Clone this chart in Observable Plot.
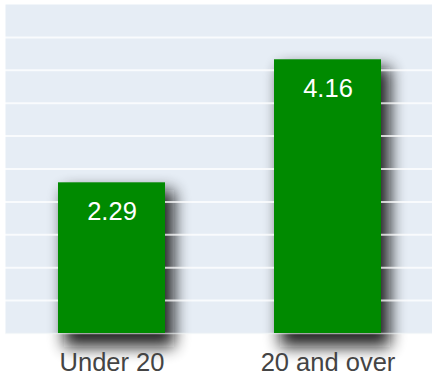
<!DOCTYPE html>
<html>
<head>
<meta charset="utf-8">
<script src="https://cdn.jsdelivr.net/npm/d3@7"></script>
<script src="https://cdn.jsdelivr.net/npm/@observablehq/plot@0.6"></script>
<style>
  html, body { margin: 0; padding: 0; background: #ffffff; }
  #chart { width: 432px; height: 378px; overflow: hidden; }
  text { font-family: "Liberation Sans", Arial, Helvetica, sans-serif; }
</style>
</head>
<body>
<div id="chart"></div>
<script>
const categories = ["Under 20", "20 and over"];
const values = [2.29, 4.16];
const labels = ["2.29", "4.16"];
const yTicks = [0, 0.5, 1, 1.5, 2, 2.5, 3, 3.5, 4, 4.5, 5];

const data = categories.map((c, i) => ({category: c, value: values[i], label: labels[i]}));

const chart = Plot.plot({
  width: 432,
  height: 378,
  marginTop: 4,
  marginBottom: 45,
  marginLeft: 5,
  marginRight: 0,
  style: {fontFamily: "Liberation Sans, Arial, sans-serif", background: "transparent", overflow: "visible"},
  x: {domain: categories, range: [3, 436], paddingInner: 0.506, paddingOuter: 0.253, label: null},
  y: {domain: [0, 5], label: null},
  marks: [
    Plot.frame({fill: "#e6edf5", stroke: null}),
    // shadow copy of the bars (blurred & offset below)
    Plot.barY(data, {x: "category", y: "value", fill: "#111111", insetBottom: -6, insetRight: -3, ariaDescription: "shadow"}),
    Plot.ruleY(yTicks.slice(1, -1), {stroke: "#ffffff", strokeWidth: 2, strokeOpacity: 0.75}),
    Plot.ruleY([0], {stroke: "#f4f8f8", strokeWidth: 1.5, strokeOpacity: 0.6}),
    Plot.barY(data, {x: "category", y: "value", fill: "#008a00"}),
    Plot.text(data, {x: "category", y: "value", text: "label", fill: "#ffffff", fontSize: 25.5, dy: 29}),
    Plot.axisX({tickSize: 0, tickPadding: 19, fontSize: 25.5, color: "#444444", label: null}),
    Plot.axisY({ticks: [], label: null})
  ]
});

const svg = d3.select(chart);
const defs = svg.insert("defs", ":first-child");
const f = defs.append("filter").attr("id", "barShadow").attr("filterUnits", "userSpaceOnUse")
  .attr("x", 0).attr("y", 0).attr("width", 432).attr("height", 378);
f.append("feGaussianBlur").attr("in", "SourceGraphic").attr("stdDeviation", 8).attr("result", "b");
f.append("feOffset").attr("in", "b").attr("dx", 6).attr("dy", 8);
svg.select("g[aria-description='shadow']").attr("filter", "url(#barShadow)").attr("opacity", 0.9);

document.getElementById("chart").appendChild(chart);
</script>
</body>
</html>
